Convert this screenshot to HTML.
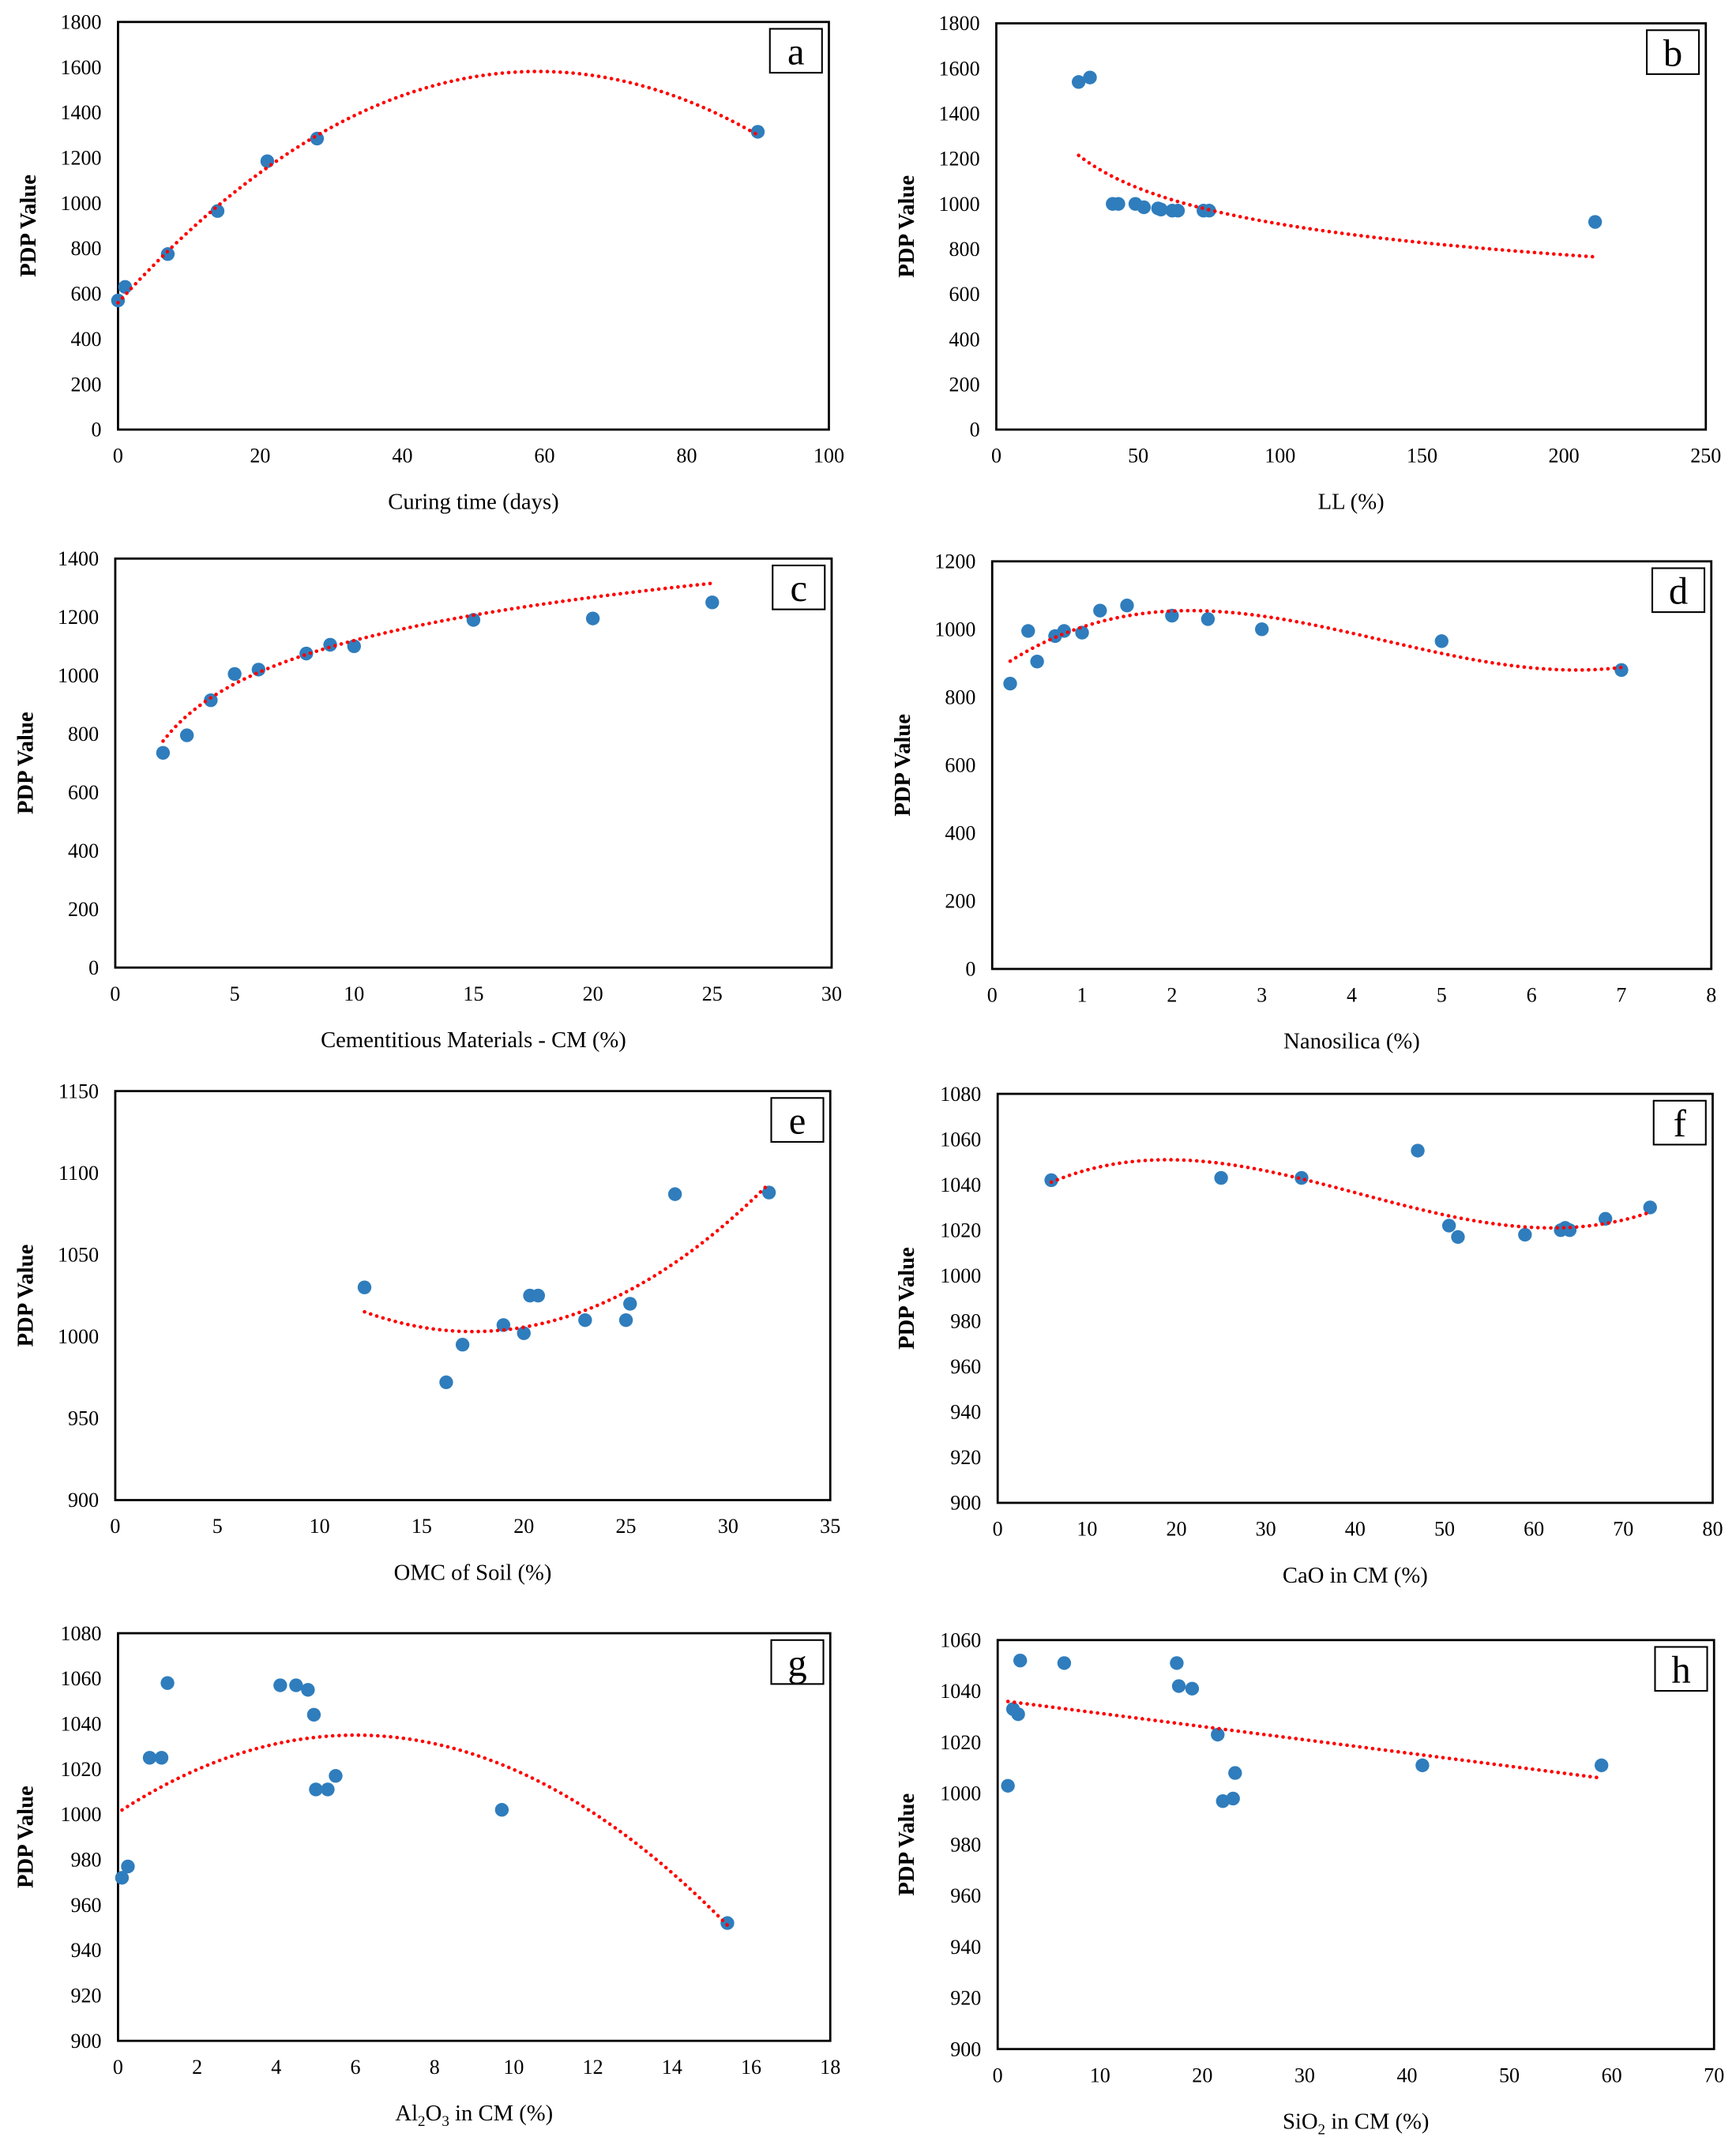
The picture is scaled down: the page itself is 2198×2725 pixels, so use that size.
<!DOCTYPE html>
<html><head><meta charset="utf-8"><style>
html,body{margin:0;padding:0;background:#fff}
svg{display:block}
text{font-family:"Liberation Serif",serif;fill:#000}
</style></head><body>
<svg id="fig" xmlns="http://www.w3.org/2000/svg" width="2198" height="2725" viewBox="0 0 1265 1568" preserveAspectRatio="none"></svg>
<script>
// panel a
const aX=[0,1,7,14,21,28,90];
const aY=[570,630,775,965,1185,1285,1315];
// panel b
const bX=[29,33,41,43,49,52,57,58,62,64,73,75,211];
const bY=[1540,1560,1000,1000,1000,985,980,975,970,970,970,970,920];
// panel c
const cX=[2,3,4,5,6,8,9,10,15,20,25];
const cY=[735,795,915,1005,1020,1075,1105,1100,1190,1195,1250];
// panel d
const dX=[0.2,0.4,0.5,0.7,0.8,1,1.2,1.5,2,2.4,3,5,7];
const dY=[840,995,905,980,995,990,1055,1070,1040,1030,1000,965,880];
// panel e
const eX=[12.2,16.2,17,19,20,20.3,20.7,23,25,25.2,27.4,32];
const eY=[1030,972,995,1007,1002,1025,1025,1010,1010,1020,1087,1088];
// panel f
const fX=[6,25,34,47,50.5,51.5,59,63,63.5,64,68,73];
const fY=[1042,1043,1043,1055,1022,1017,1018,1020,1021,1020,1025,1030];
// panel g
const gX=[0.1,0.25,0.8,1.1,1.25,4.1,4.5,4.8,4.95,5,5.3,5.5,9.7,15.4];
const gY=[972,977,1025,1025,1058,1057,1057,1055,1044,1011,1011,1017,1002,952];
// panel h
const hX=[1,1.5,2,2.2,6.5,17.5,17.7,19,21.5,22,23,23.2,41.5,59];
const hY=[1003,1033,1031,1052,1051,1051,1042,1041,1023,997,998,1008,1011,1011];

const NS="http://www.w3.org/2000/svg";
const svg=document.getElementById('fig');
function mk(tag,attrs,parent){const e=document.createElementNS(NS,tag);for(const k in attrs)e.setAttribute(k,attrs[k]);(parent||svg).appendChild(e);return e;}

const panels=[
 {id:'a',box:[86,16,604,313],xr:[0,100,20],yr:[0,1800,200],xs:aX,ys:aY,title:'Curing time (days)',ytx:20,
  fit:x=>560+34.6*x-0.293*x*x,fr:[0,90]},
 {id:'b',box:[726,17,1243,313],xr:[0,250,50],yr:[0,1800,200],xs:bX,ys:bY,title:'LL (%)',ytx:660,
  fit:x=>1215*Math.pow(x/29,-0.233),fr:[29,211]},
 {id:'c',box:[84,407,606,705],xr:[0,30,5],yr:[0,1400,200],xs:cX,ys:cY,title:'Cementitious Materials - CM (%)',ytx:18,
  fit:x=>627+213.9*Math.log(x),fr:[2,25]},
 {id:'d',box:[723,409,1247,706],xr:[0,8,1],yr:[0,1200,200],xs:dX,ys:dY,title:'Nanosilica (%)',ytx:657,
  fit:x=>870.7+13.2*(x*x*x/3-4.35*x*x+14.3*x),fr:[0.2,7]},
 {id:'e',box:[84,795,605,1093],xr:[0,35,5],yr:[900,1150,50],xs:eX,ys:eY,title:'OMC of Soil (%)',ytx:18,
  fit:x=>1003+0.43*(x-17.5)*(x-17.5),fr:[12.2,32]},
 {id:'f',box:[727,797,1248,1095],xr:[0,80,10],yr:[900,1080,20],xs:fX,ys:fY,title:'CaO in CM (%)',ytx:660,
  fit:x=>1028.25+0.002264*(x*x*x/3-40.5*x*x+1178*x),fr:[6,73]},
 {id:'g',box:[86,1190,605,1487],xr:[0,18,2],yr:[900,1080,20],xs:gX,ys:gY,title:'AL',ytx:18,
  fit:x=>1035-0.95*(x-6)*(x-6),fr:[0.1,15.4]},
 {id:'h',box:[727,1195,1249,1493],xr:[0,70,10],yr:[900,1060,20],xs:hX,ys:hY,title:'SI',ytx:660,
  fit:x=>1036-0.517*(x-1),fr:[1,59]}
];

panels.forEach(p=>{
 const [x0,y0,x1,y1]=p.box;
 const g=mk('g',{});
 
 
 const sx=v=>x0+(v-p.xr[0])/(p.xr[1]-p.xr[0])*(x1-x0);
 const sy=v=>y1-(v-p.yr[0])/(p.yr[1]-p.yr[0])*(y1-y0);
 const box=mk('rect',{x:x0,y:y0,width:x1-x0,height:y1-y0,fill:'none',stroke:'#000','stroke-width':1.6},g);
 
 
 for(let v=p.yr[0];v<=p.yr[1]+1e-9;v+=p.yr[2]){
  const t=mk('text',{x:x0-12,y:sy(v)+5,'text-anchor':'end','font-size':15},g);t.textContent=v;
  
  
 }
 for(let v=p.xr[0];v<=p.xr[1]+1e-9;v+=p.xr[2]){
  const t=mk('text',{x:sx(v),y:y1+24,'text-anchor':'middle','font-size':15},g);t.textContent=Math.round(v*100)/100;
  
  
 }
 const xt=mk('text',{x:(x0+x1)/2,y:y1+58,'text-anchor':'middle','font-size':16.5},g);
 
 
 if(p.title==='AL'){xt.innerHTML='Al<tspan dy="4" font-size="11">2</tspan><tspan dy="-4">O</tspan><tspan dy="4" font-size="11">3</tspan><tspan dy="-4"> in CM (%)</tspan>';}
 else if(p.title==='SI'){xt.innerHTML='SiO<tspan dy="4" font-size="11">2</tspan><tspan dy="-4"> in CM (%)</tspan>';}
 else xt.textContent=p.title;
 const yc=(y0+y1)/2;
 const yt=mk('text',{x:p.ytx,y:yc,'text-anchor':'middle','font-size':16.5,'font-weight':'bold',transform:`rotate(-90 ${p.ytx} ${yc})`,dy:6},g);
 yt.textContent='PDP Value';
 
 
 // points
 p.xs.forEach((xv,i)=>{
  const c=mk('circle',{cx:sx(xv),cy:sy(p.ys[i]),r:5,fill:'#2f7dbd'},g);
  
  
 });
 // trend
 let d='';const N=80;
 for(let k=0;k<=N;k++){const xv=p.fr[0]+(p.fr[1]-p.fr[0])*k/N;d+=(k?'L':'M')+sx(xv).toFixed(2)+' '+sy(p.fit(xv)).toFixed(2);}
 const tl=mk('path',{d:d,fill:'none',stroke:'#ff0000','stroke-width':2.6,'stroke-dasharray':'0.1 4.6','stroke-linecap':'round'},g);
 
 
 // letter box
 const lb=mk('rect',{x:x1-43,y:y0+5,width:38,height:32,fill:'#fff',stroke:'#000','stroke-width':1.2},g);
 
 
 const lt=mk('text',{x:x1-24,y:y0+31,'text-anchor':'middle','font-size':28},g);lt.textContent=p.id;
 
 
});
</script>
</body></html>
